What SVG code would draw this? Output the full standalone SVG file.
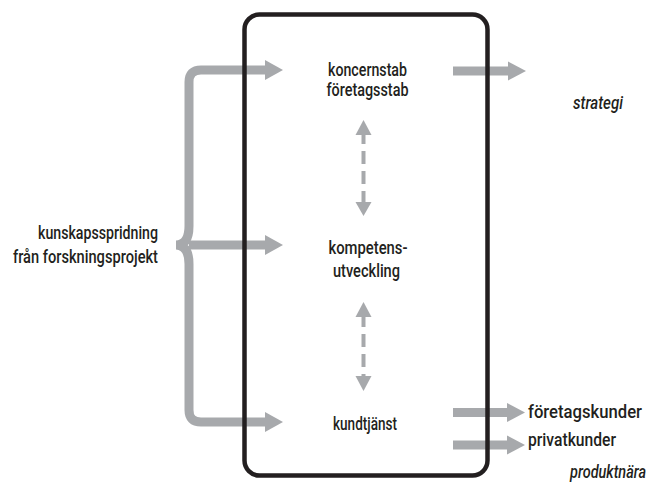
<svg xmlns="http://www.w3.org/2000/svg" width="657" height="491" viewBox="0 0 657 491">
<style>
  text { font-family: Roboto, "DejaVu Sans Condensed", "Liberation Sans", sans-serif; font-size: 19px; font-weight: 500; fill: #231f20; }
  .tight { font-size: 18px; }
  .it { font-style: italic; }
  .mid { text-anchor: middle; }
  .end { text-anchor: end; }
  .gl { fill: none; stroke: #a7a9ac; stroke-width: 9; }
  .gd { fill: none; stroke: #a7a9ac; stroke-width: 4; stroke-dasharray: 13 7; }
  .gh { fill: #a7a9ac; }
  .box { fill: none; stroke: #231f20; stroke-width: 4.5; }
</style>
<rect width="657" height="491" fill="#ffffff"/>
<g id="connectors">
  <path class="gl" d="M267,70 H201 Q189,70 189,82 V226 Q189,245 176,245 Q189,245 189,264 V410 Q189,422 201,422 H267"/>
  <path class="gl" d="M189,245 H267"/>
  <polygon class="gh" points="265,60 283,70 265,80"/>
  <polygon class="gh" points="265,235 283,245 265,255"/>
  <polygon class="gh" points="265,412 283,422 265,432"/>
  <path class="gl" d="M453,71 H510"/>
  <polygon class="gh" points="508,61.5 526,71 508,80.5"/>
  <path class="gl" d="M453,412.5 H509"/>
  <polygon class="gh" points="507,403 525,412.5 507,422"/>
  <path class="gl" d="M453,445 H509"/>
  <polygon class="gh" points="507,435.5 525,445 507,454.5"/>
  <path class="gd" d="M363.5,135 V202" stroke-dashoffset="4"/>
  <polygon class="gh" points="363.5,120 371.5,135 355.5,135"/>
  <polygon class="gh" points="355.5,202 371.5,202 363.5,216"/>
  <path class="gd" d="M363.5,317 V376" stroke-dashoffset="3"/>
  <polygon class="gh" points="363.5,302 371.5,317 355.5,317"/>
  <polygon class="gh" points="355.5,376 371.5,376 363.5,391"/>
</g>
<g id="box">
  <rect class="box" x="244.5" y="14.5" width="243" height="461" rx="15"/>
</g>
<g id="node-koncernstab">
  <text class="mid tight" x="367.5" y="76" textLength="79" lengthAdjust="spacingAndGlyphs">koncernstab</text>
  <text class="mid tight" x="367.5" y="96" textLength="82" lengthAdjust="spacingAndGlyphs">företagsstab</text>
</g>
<g id="node-kompetens">
  <text class="mid" x="368" y="254" textLength="79" lengthAdjust="spacingAndGlyphs">kompetens-</text>
  <text class="mid" x="366.5" y="277" textLength="67" lengthAdjust="spacingAndGlyphs">utveckling</text>
</g>
<g id="node-kundtjanst">
  <text class="mid" x="365" y="430" textLength="64" lengthAdjust="spacingAndGlyphs">kundtjänst</text>
</g>
<g id="node-kunskap">
  <text class="end" x="158" y="239" textLength="120" lengthAdjust="spacingAndGlyphs">kunskapsspridning</text>
  <text class="end" x="158" y="263" textLength="145" lengthAdjust="spacingAndGlyphs">från forskningsprojekt</text>
</g>
<g id="node-strategi">
  <text class="it" x="573" y="109" textLength="50" lengthAdjust="spacingAndGlyphs">strategi</text>
</g>
<g id="node-foretagskunder">
  <text x="528" y="418" textLength="114" lengthAdjust="spacingAndGlyphs">företagskunder</text>
</g>
<g id="node-privatkunder">
  <text x="528" y="446" textLength="88" lengthAdjust="spacingAndGlyphs">privatkunder</text>
</g>
<g id="node-produktnara">
  <text class="it end" x="646" y="478" textLength="76" lengthAdjust="spacingAndGlyphs">produktnära</text>
</g>
</svg>
